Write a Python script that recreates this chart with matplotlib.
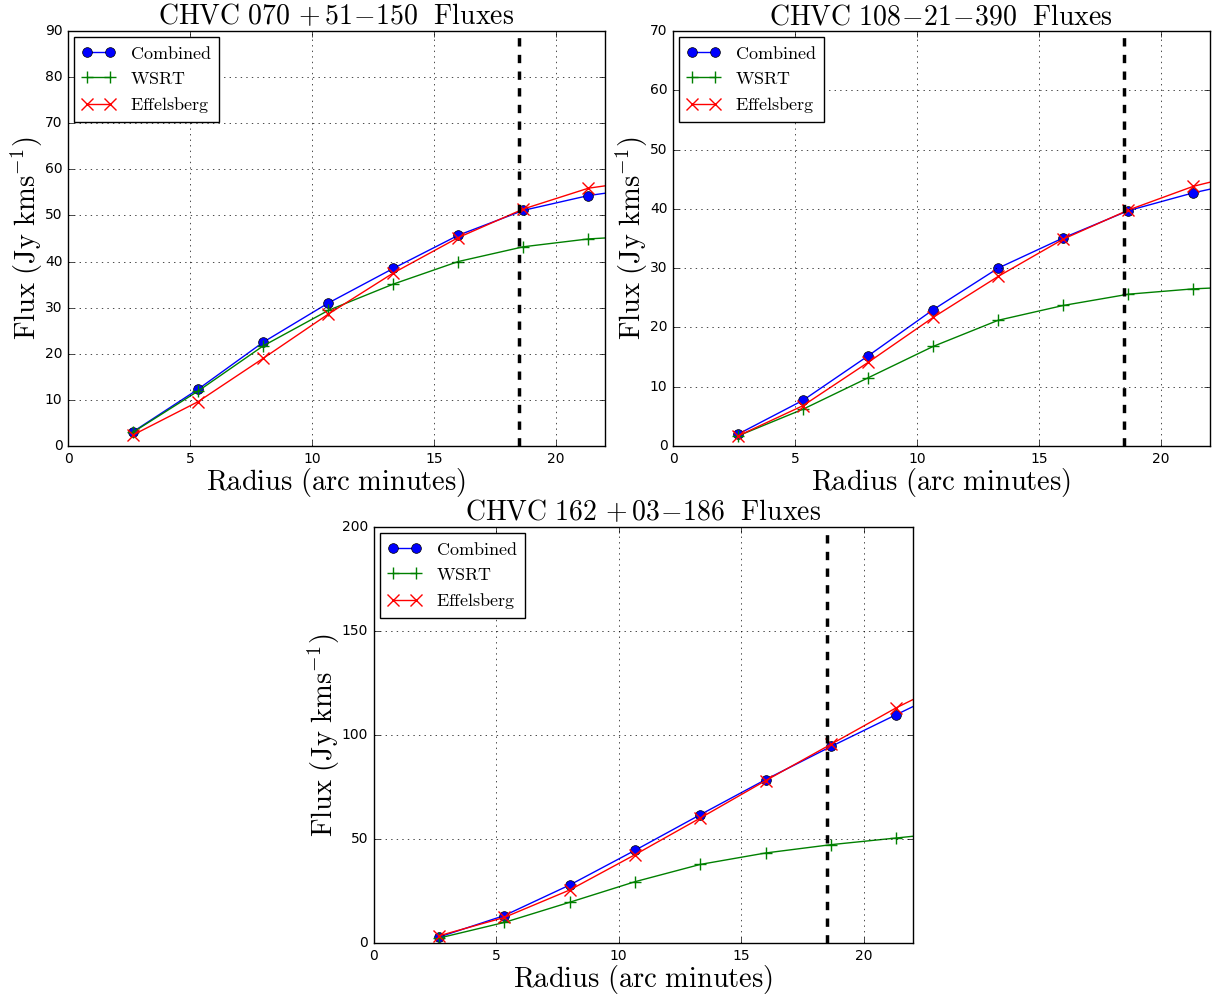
import matplotlib
matplotlib.use("Agg")
import matplotlib.pyplot as plt

plt.style.use("classic")
plt.rcParams['mathtext.fontset'] = 'cm'
plt.rcParams['font.size'] = 10

radius = [2.67, 5.33, 8.0, 10.67, 13.33, 16.0, 18.67, 21.33, 24.0]

titles = [r"$\mathrm{CHVC\ 070\,+51\!-\!150\ \ Fluxes}$",
          r"$\mathrm{CHVC\ 108\!-\!21\!-\!390\ \ Fluxes}$",
          r"$\mathrm{CHVC\ 162\,+03\!-\!186\ \ Fluxes}$"]

comb_070 = [3.1, 12.3, 22.5, 31.0, 38.5, 45.7, 51.1, 54.3, 56.3]
wsrt_070 = [3.0, 11.9, 21.7, 29.4, 35.1, 40.0, 43.2, 44.9, 45.7]
eff_070 = [2.4, 9.6, 19.0, 28.6, 37.5, 45.2, 51.4, 55.9, 57.9]

comb_108 = [2.0, 7.7, 15.2, 23.0, 30.0, 35.1, 39.7, 42.7, 45.1]
wsrt_108 = [1.7, 6.2, 11.5, 16.8, 21.2, 23.7, 25.6, 26.5, 27.0]
eff_108 = [1.7, 6.8, 14.1, 21.7, 28.6, 34.9, 39.8, 43.8, 46.5]

comb_162 = [2.9, 13.2, 27.9, 44.6, 61.7, 78.6, 94.5, 109.8, 125.0]
wsrt_162 = [2.4, 9.9, 19.6, 29.5, 37.8, 43.3, 47.3, 50.5, 53.8]
eff_162 = [3.5, 12.3, 25.5, 42.5, 60.1, 78.1, 95.6, 113.1, 128.6]

ymax = [90, 70, 200]
cutoff = 18.5

fig = plt.figure(figsize=(12.17, 9.99), dpi=100, facecolor='white')
axes = [fig.add_axes([0.0559, 0.5536, 0.441, 0.4154]),
        fig.add_axes([0.553, 0.5536, 0.441, 0.4154]),
        fig.add_axes([0.307, 0.056, 0.443, 0.4165])]

data = [(comb_070, wsrt_070, eff_070),
        (comb_108, wsrt_108, eff_108),
        (comb_162, wsrt_162, eff_162)]

for ax, (comb, wsrt, eff), t, ym in zip(axes, data, titles, ymax):
    ax.plot(radius, comb, 'b-o', ms=7, label=r'$\mathrm{Combined}$')
    ax.plot(radius, wsrt, 'g-+', ms=9, mew=1, label=r'$\mathrm{WSRT}$')
    ax.plot(radius, eff, 'r-x', ms=9, mew=1, label=r'$\mathrm{Effelsberg}$')
    ax.axvline(cutoff, color='k', ls='--', lw=2.5)
    ax.set_xlim(0, 22)
    ax.set_ylim(0, ym)
    ax.grid(True)
    ax.set_title(t, fontsize=20)
    ax.set_xlabel(r'$\mathrm{Radius\ (arc\ minutes)}$', fontsize=20.5, labelpad=0)
    ax.set_ylabel(r'$\mathrm{Flux\ (Jy\ kms^{-1})}$', fontsize=20.5, labelpad=0)
    ax.legend(loc='upper left', fontsize=13, numpoints=2, labelspacing=0.4,
              handlelength=1.9, borderaxespad=0.35)

fig.savefig("out.png", dpi=100, facecolor='white')
